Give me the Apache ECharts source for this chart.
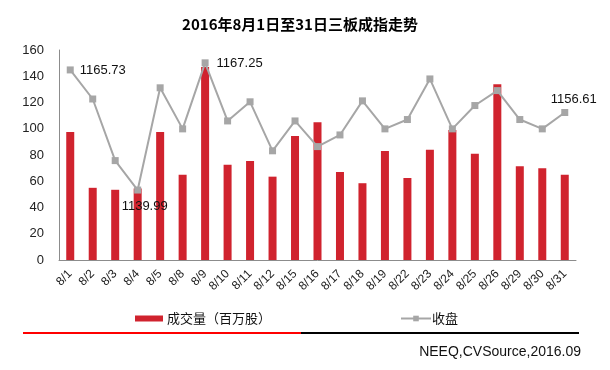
<!DOCTYPE html>
<html><head><meta charset="utf-8">
<script src="https://cdn.jsdelivr.net/npm/echarts@6/dist/echarts.min.js"></script>
<style>html,body{margin:0;padding:0;background:#fff}#c{width:610px;height:370px}</style>
</head><body><div id="c"></div>
<script>
const categories = ['8/1','8/2','8/3','8/4','8/5','8/8','8/9','8/10','8/11','8/12','8/15','8/16','8/17','8/18','8/19','8/22','8/23','8/24','8/25','8/26','8/29','8/30','8/31'];
const volume = [97.5,55,53.5,54.5,97.5,65,147,72.5,75.5,63.5,94.5,105,67,58.5,83,62.5,84,99,81,134,71.5,70,65];
const close = [1165.73,1159.5,1146.3,1139.99,1161.9,1153.1,1167.25,1154.8,1158.9,1148.4,1154.8,1149.3,1151.8,1159.1,1153.1,1155.1,1163.8,1153.1,1158.1,1161.3,1155.1,1153.1,1156.61];
const leftTicks = {min:0, max:160, interval:20};
const labelled = {0:{position:'right',offset:[1,0]},3:{position:'bottom',offset:[7,1]},6:{position:'right',offset:[3,1]},22:{position:'top',offset:[9,2]}};

const font = 'Arial, "Liberation Sans", sans-serif';
const cjk = '"Noto Sans CJK SC", Arial, sans-serif';
const lineData = close.map((v,i)=>{
  const l = labelled[i];
  if(!l) return v;
  return {value:v, label:{show:true, position:l.position, offset:l.offset, formatter:'{c}', color:'#111', fontSize:13, fontFamily:font}};
});

const chart = echarts.init(document.getElementById('c'), null, {renderer:'canvas'});
chart.setOption({
  animation:false,
  title:{text:'2016年8月1日至31日三板成指走势', left:295, top:12, textAlign:'center',
    textStyle:{fontSize:15, fontWeight:'bold', color:'#000', fontFamily:cjk}},
  grid:{left:59, right:34, top:50, bottom:110, containLabel:false},
  legend:[
    {data:[{name:'成交量（百万股）', icon:'rect'}], left:130, top:307, itemWidth:28, itemHeight:6, itemGap:4,
      textStyle:{fontSize:13, color:'#111', fontFamily:cjk, padding:[0,0,0,-1]}},
    {data:[{name:'收盘'}], left:395, top:307, itemWidth:30, itemHeight:7,
      textStyle:{fontSize:13, color:'#111', fontFamily:cjk, padding:[0,0,0,-4]}}
  ],
  xAxis:{type:'category', data:categories, boundaryGap:true,
    axisLine:{lineStyle:{color:'#8c8c8c', width:1}}, axisTick:{show:false},
    axisLabel:{rotate:45, fontSize:12, color:'#222', fontFamily:font, margin:12, interval:0}},
  yAxis:[
    {type:'value', min:leftTicks.min, max:leftTicks.max, interval:leftTicks.interval,
      axisLine:{show:true, lineStyle:{color:'#8c8c8c'}}, axisTick:{show:false}, splitLine:{show:false},
      axisLabel:{fontSize:13, color:'#222', fontFamily:font, margin:15}},
    {type:'value', min:1125, max:1170, show:false, splitLine:{show:false}}
  ],
  series:[
    {name:'成交量（百万股）', type:'bar', data:volume, barWidth:8, itemStyle:{color:'#d0232e'}},
    {name:'收盘', type:'line', yAxisIndex:1, data:lineData, symbol:'rect', symbolSize:7,
      lineStyle:{color:'#a6a6a6', width:2}, itemStyle:{color:'#a6a6a6'}, z:3}
  ],
  graphic:[
    {type:'line', shape:{x1:23,y1:333,x2:301,y2:333}, style:{stroke:'#ff0000', lineWidth:2}},
    {type:'line', shape:{x1:301,y1:333,x2:579,y2:333}, style:{stroke:'#000', lineWidth:2}},
    {type:'text', right:29, top:345, style:{text:'NEEQ,CVSource,2016.09', fontSize:14, fill:'#111', fontFamily:font}}
  ]
});
</script></body></html>
